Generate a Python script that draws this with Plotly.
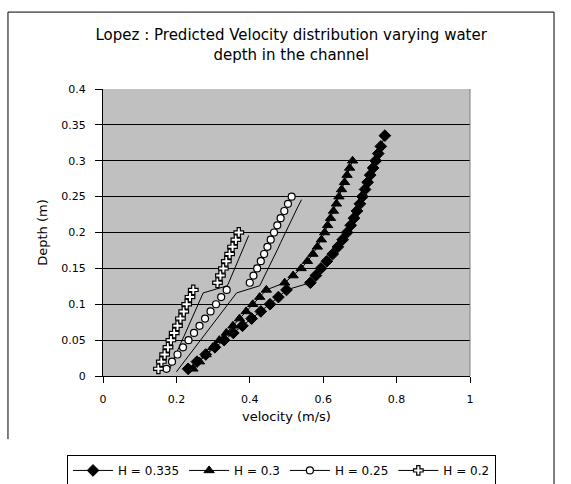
import plotly.graph_objects as go

# ---------------- data ----------------
series_names = ["H = 0.335", "H = 0.3", "H = 0.25", "H = 0.2"]

depth_lower = [0.01, 0.02, 0.03, 0.04, 0.05, 0.06, 0.07, 0.08, 0.09, 0.10, 0.11, 0.12]

# H = 0.335
v335_lower = [0.232, 0.256, 0.280, 0.305, 0.330, 0.355, 0.380, 0.405, 0.430, 0.455, 0.478, 0.500]
d335_upper = [0.13, 0.14, 0.15, 0.16, 0.17, 0.18, 0.19, 0.20, 0.21, 0.22, 0.23, 0.24,
              0.25, 0.26, 0.27, 0.28, 0.29, 0.30, 0.31, 0.32, 0.335]
v335_upper = [0.565, 0.580, 0.594, 0.610, 0.626, 0.640, 0.653, 0.665, 0.675, 0.684, 0.692, 0.700,
              0.707, 0.714, 0.721, 0.728, 0.736, 0.743, 0.750, 0.757, 0.768]

# H = 0.3
v30_lower = [0.245, 0.263, 0.281, 0.299, 0.317, 0.336, 0.354, 0.372, 0.390, 0.408, 0.427, 0.445]
d30_upper = [0.13, 0.14, 0.15, 0.16, 0.17, 0.18, 0.19, 0.20, 0.21, 0.22, 0.23, 0.24,
             0.25, 0.26, 0.27, 0.28, 0.29, 0.30]
v30_upper = [0.495, 0.518, 0.540, 0.557, 0.572, 0.584, 0.595, 0.604, 0.612, 0.620, 0.628, 0.636,
             0.643, 0.650, 0.658, 0.665, 0.672, 0.680]

# H = 0.25
v25_lower = [0.173, 0.188, 0.203, 0.218, 0.233, 0.248, 0.263, 0.278, 0.293, 0.308, 0.322, 0.337]
d25_upper = [0.13, 0.14, 0.15, 0.16, 0.17, 0.18, 0.19, 0.20, 0.21, 0.22, 0.23, 0.24, 0.25]
v25_upper = [0.400, 0.410, 0.420, 0.430, 0.439, 0.448, 0.457, 0.466, 0.475, 0.484, 0.494, 0.504, 0.514]

# H = 0.2
v20_lower = [0.151, 0.159, 0.168, 0.177, 0.185, 0.194, 0.203, 0.211, 0.220, 0.228, 0.237, 0.246]
d20_upper = [0.13, 0.14, 0.15, 0.16, 0.17, 0.18, 0.19, 0.20]
v20_upper = [0.312, 0.320, 0.328, 0.336, 0.345, 0.353, 0.362, 0.370]

x_ticks = [0, 0.2, 0.4, 0.6, 0.8, 1]
y_ticks = [0, 0.05, 0.1, 0.15, 0.2, 0.25, 0.3, 0.35, 0.4]

# ---------------- styles ----------------
FONT = "DejaVu Sans, Arial, sans-serif"
styles = [
    dict(symbol="diamond", color="black", line=dict(color="black", width=1), size=9),
    dict(symbol="triangle-up", color="black", line=dict(color="black", width=1), size=9),
    dict(symbol="circle", color="white", line=dict(color="black", width=1.2), size=7),
    dict(symbol="cross", color="white", line=dict(color="black", width=1.2), size=8),
]
# black series: line under the markers; white series: line drawn offset (as in the original)
line_axes = [("x3", "y3"), ("x3", "y3"), ("x2", "y2"), ("x2", "y2")]

profiles = [
    (v335_lower + v335_upper, depth_lower + d335_upper),
    (v30_lower + v30_upper, depth_lower + d30_upper),
    (v25_lower + v25_upper, depth_lower + d25_upper),
    (v20_lower + v20_upper, depth_lower + d20_upper),
]

fig = go.Figure()

for (vx, dy), (xa, ya) in zip(profiles, line_axes):
    fig.add_trace(go.Scatter(x=vx, y=dy, mode="lines", xaxis=xa, yaxis=ya,
                             line=dict(color="black", width=1), showlegend=False,
                             hoverinfo="skip"))

for (vx, dy), st in zip(profiles, styles):
    fig.add_trace(go.Scatter(x=vx, y=dy, mode="markers", xaxis="x3", yaxis="y3",
                             marker=st, showlegend=False))

for name, st in zip(series_names, styles):
    fig.add_trace(go.Scatter(x=[None], y=[None], mode="lines+markers", name=name,
                             marker=st, line=dict(color="black", width=1)))

axis_common = dict(showgrid=False, zeroline=False)
fig.update_layout(
    width=571, height=484,
    margin=dict(l=103, r=101, t=89, b=108, autoexpand=False),
    paper_bgcolor="white",
    plot_bgcolor="#C0C0C0",
    font=dict(family=FONT, size=11, color="black"),
    title=dict(text="Lopez : Predicted Velocity distribution varying water<br>depth in the channel",
               x=0.51, xanchor="center", y=0.917, yanchor="top",
               font=dict(family=FONT, size=15, color="black")),
    xaxis=dict(range=[0, 1], tickvals=x_ticks, ticks="outside", ticklen=6, tickcolor="black",
               ticklabelstandoff=7,
               showline=True, linecolor="black", linewidth=1, showgrid=False, zeroline=False,
               title=dict(text="velocity (m/s)", font=dict(size=13), standoff=6),
               tickfont=dict(size=11), fixedrange=True),
    yaxis=dict(range=[0, 0.4], tickvals=y_ticks, ticks="outside", ticklen=7, tickcolor="black",
               ticklabelstandoff=7,
               showline=True, linecolor="black", linewidth=1,
               showgrid=True, gridcolor="black", gridwidth=1, zeroline=False,
               title=dict(text="Depth (m)", font=dict(size=13), standoff=10),
               tickfont=dict(size=11), fixedrange=True),
    xaxis2=dict(range=[-0.027, 0.973], overlaying="x", anchor="y2", visible=False, **axis_common),
    yaxis2=dict(range=[0.0042, 0.4042], overlaying="y", anchor="x2", visible=False, **axis_common),
    xaxis3=dict(range=[0, 1], overlaying="x", anchor="y3", visible=False, **axis_common),
    yaxis3=dict(range=[0, 0.4], overlaying="y", anchor="x3", visible=False, **axis_common),
    legend=dict(orientation="h", x=-0.098, xanchor="left", y=-0.275, yanchor="top",
                bordercolor="black", borderwidth=1, bgcolor="white",
                font=dict(family=FONT, size=12), itemwidth=40, tracegroupgap=0),
    showlegend=True,
    shapes=[
        dict(type="line", xref="paper", yref="paper", x0=1, x1=1, y0=0, y1=1,
             line=dict(color="#808080", width=1)),
        dict(type="line", xref="paper", yref="paper", x0=-0.2589, x1=1.2289, y0=1.268, y1=1.268,
             line=dict(color="black", width=1)),
        dict(type="line", xref="paper", yref="paper", x0=-0.2589, x1=-0.2589, y0=1.268, y1=-0.22,
             line=dict(color="black", width=1)),
        dict(type="line", xref="paper", yref="paper", x0=1.2289, x1=1.2289, y0=1.268, y1=-0.40,
             line=dict(color="black", width=1)),
    ],
)

fig.write_html("out.html")
